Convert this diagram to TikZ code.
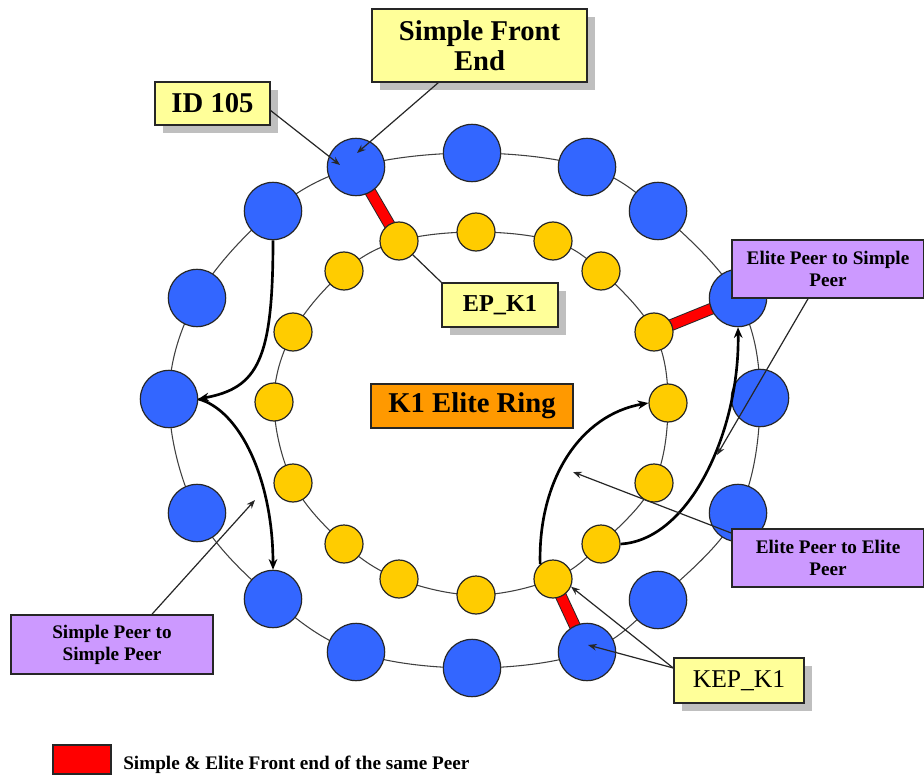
\documentclass[tikz,border=0pt]{standalone}
\usepackage{fontspec}
\setmainfont{Liberation Serif}
\usetikzlibrary{arrows.meta,shadows,backgrounds}

\definecolor{peerblue}{HTML}{3366FF}
\definecolor{elitegold}{HTML}{FFCC00}
\definecolor{notepale}{HTML}{FFFF99}
\definecolor{notelilac}{HTML}{CC99FF}
\definecolor{ringorange}{HTML}{FF9900}
\definecolor{linkred}{HTML}{FF0000}

\begin{document}
\begin{tikzpicture}[x=0.75pt,y=-0.75pt,
  simplepeer/.style={circle,draw=black!85,line width=0.9pt,fill=peerblue,
    minimum size=43pt,inner sep=0pt},
  elitepeer/.style={circle,draw=black!85,line width=0.9pt,fill=elitegold,
    minimum size=28.5pt,inner sep=0pt},
  ringline/.style={draw=black!75,line width=0.8pt},
  frontlink/.style={draw=black!85,line width=0.7pt,double=linkred,double distance=7.5pt},
  labelbox/.style={draw=black!85,line width=1.2pt,inner sep=0pt,align=center},
  note/.style={labelbox,fill=notepale,
    general shadow={fill=black!25,shadow xshift=6pt,shadow yshift=-6pt}},
  tag/.style={labelbox,fill=notelilac,font=\bfseries\fontsize{14.4}{16.5}\selectfont},
  bigarrow/.style={draw=black,line width=2pt,-{Stealth[length=8pt,width=6.5pt]}},
  pointer/.style={draw=black!85,line width=0.9pt,-{Stealth[length=6.5pt,width=5pt]}},
  leader/.style={draw=black!85,line width=0.9pt}
]
\useasboundingbox (0,0) rectangle (924,777);

% outer ring of simple peers, clockwise from the top
\foreach \i/\p in {0/{(472,153)},1/{(587,167)},2/{(658,211)},3/{(738,298)},
                   4/{(760,398)},5/{(738,513)},6/{(658,600)},7/{(587,652)},
                   8/{(472,668)},9/{(356,652)},10/{(273,599)},11/{(197,513)},
                   12/{(169,399)},13/{(197,298)},14/{(273,211)},15/{(356,167)}}
  \node[simplepeer] (b\i) at \p {};

% inner ring of elite peers, clockwise from the top
\foreach \i/\p in {0/{(476,232)},1/{(553,241)},2/{(601,271)},3/{(654,332)},
                   4/{(668,403)},5/{(654,483)},6/{(601,544)},7/{(553,579)},
                   8/{(476,595)},9/{(399,579)},10/{(344,544)},11/{(293,483)},
                   12/{(274,402)},13/{(293,332)},14/{(344,271)},15/{(399,241)}}
  \node[elitepeer] (y\i) at \p {};

\begin{scope}[on background layer]
  \fill[white] (0,0) rectangle (924,777);
  \draw[ringline] plot[smooth cycle,tension=0.6] coordinates {
    (b0.center) (b1.center) (b2.center) (b3.center) (b4.center) (b5.center)
    (b6.center) (b7.center) (b8.center) (b9.center) (b10.center) (b11.center)
    (b12.center) (b13.center) (b14.center) (b15.center)};
  \draw[ringline] plot[smooth cycle,tension=0.6] coordinates {
    (y0.center) (y1.center) (y2.center) (y3.center) (y4.center) (y5.center)
    (y6.center) (y7.center) (y8.center) (y9.center) (y10.center) (y11.center)
    (y12.center) (y13.center) (y14.center) (y15.center)};
  % front ends shared by one peer
  \draw[frontlink] (b15.center) -- (y15.center);
  \draw[frontlink] (y3.center) -- (b3.center);
  \draw[frontlink] (y7.center) -- (b7.center);
\end{scope}

% overlay links
\draw[bigarrow] (b14.south) .. controls (273,360) and (258,388) .. (b12.east);
\draw[bigarrow] (b12.east) .. controls (240,410) and (273,480) .. (b10.north);
\draw[bigarrow] (y6.east) .. controls (690,540) and (740,430) .. (b3.south);
\draw[bigarrow] (y7.131) .. controls (538,480) and (580,415) .. (y4.west);

% labels
\node[note,minimum width=161.25pt,minimum height=54.75pt,
  font=\bfseries\fontsize{21.5}{22.5}\selectfont] (sfe) at (479.5,45.5) {Simple Front\\End};
\node[note,minimum width=86.25pt,minimum height=32.25pt,
  font=\bfseries\fontsize{21.5}{22.5}\selectfont] (id105) at (212.5,103.5) {ID 105};
\node[note,minimum width=87pt,minimum height=33pt,
  font=\bfseries\fontsize{18.2}{20}\selectfont] (epk) at (500,305) {EP\_K1};
\node[note,minimum width=97.5pt,minimum height=33.75pt,
  font=\fontsize{19.2}{20}\selectfont] (kep) at (739,680.5) {KEP\_K1};
\node[labelbox,fill=ringorange,minimum width=151.5pt,minimum height=33pt,
  font=\bfseries\fontsize{21.5}{22.5}\selectfont] (ring) at (472,406) {K1 Elite Ring};
\node[tag,minimum width=144pt,minimum height=43.5pt] (es) at (828,269) {Elite Peer to Simple\\Peer};
\node[tag,minimum width=144pt,minimum height=43.5pt] (ee) at (828,558) {Elite Peer to Elite\\Peer};
\node[tag,minimum width=151.5pt,minimum height=44.25pt] (ss) at (112,644.5) {Simple Peer to\\Simple Peer};

\coordinate (esTip) at (717,455);
\coordinate (eeTip) at (573,472);
\coordinate (ssTip) at (255,500);

\draw[pointer] (id105.-7) -- ([shift={(-16,-2)}]b15.center);
\draw[pointer] ([xshift=-31pt]sfe.south) -- ([shift={(1,-14)}]b15.center);
\draw[leader] (y15.-45) -- (epk.north west);
\draw[pointer] ([xshift=-15pt]es.south) -- (esTip);
\draw[pointer] ([yshift=18.75pt]ee.west) -- (eeTip);
\draw[pointer] ([xshift=30pt]ss.north) -- (ssTip);
\draw[pointer] ([yshift=9.4pt]kep.west) -- ([shift={(1,-7)}]b7.center);
\draw[pointer] ([yshift=9.4pt]kep.west) -- (y7.-23);

% legend
\node[draw=black!85,line width=0.9pt,fill=linkred,minimum width=43.5pt,
  minimum height=21.75pt,inner sep=0pt] (legkey) at (82,759.5) {};
\node[anchor=base west,inner sep=0pt,font=\bfseries\fontsize{14.4}{16}\selectfont]
  (legtext) at (123,769) {Simple \& Elite Front end of the same Peer};
\end{tikzpicture}
\end{document}
